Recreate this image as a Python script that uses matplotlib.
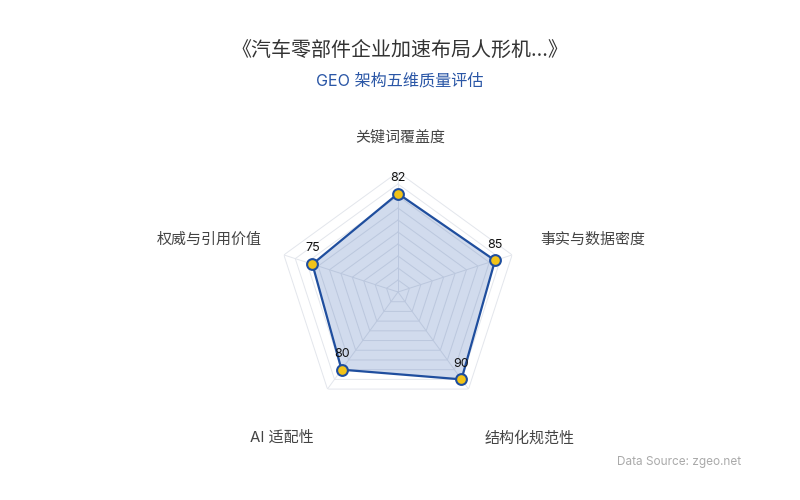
import numpy as np
import matplotlib
matplotlib.use("Agg")
from matplotlib import pyplot as plt

plt.rcParams['font.family'] = ['Inter', 'Noto Sans CJK SC', 'DejaVu Sans']

title = "《汽车零部件企业加速布局人形机...》"
subtitle = "GEO 架构五维质量评估"
dimensions = ["关键词覆盖度", "事实与数据密度", "结构化规范性", "AI 适配性", "权威与引用价值"]
scores = [82, 85, 90, 80, 75]
max_score = 100
ring_step = 10

W, H = 800, 500
fig = plt.figure(figsize=(8, 5), dpi=100)
fig.patch.set_facecolor("white")

# radar centre / radius in pixels
cx, cy, R = 398, 292, 120
ax = fig.add_axes([(cx - R) / W, (H - cy - R) / H, 2 * R / W, 2 * R / H], projection="polar")
ax.set_theta_offset(np.pi / 2)
ax.set_theta_direction(-1)
ax.set_ylim(0, max_score)
ax.grid(False)
ax.spines["polar"].set_visible(False)
ax.set_xticks([])
ax.set_yticks([])
ax.patch.set_alpha(0)

n = len(dimensions)
angles = np.linspace(0, 2 * np.pi, n, endpoint=False)
closed = np.append(angles, angles[0])

# polygon grid
for r in range(ring_step, max_score + 1, ring_step):
    ax.plot(closed, [r] * (n + 1), color="#e3e6ec", lw=0.7, zorder=1)
for a in angles:
    ax.plot([a, a], [0, max_score], color="#e3e6ec", lw=0.7, zorder=1)

vals = np.append(scores, scores[0])
ax.fill(closed, vals, color="#2f5cad", alpha=0.22, zorder=2, lw=0)
ax.plot(closed, vals, color="#1f4e9e", lw=1.6, zorder=3)
ax.scatter(angles, scores, s=60, color="#f2c318", edgecolors="#1f4e9e", linewidths=1.5, zorder=4)

for a, v in zip(angles, scores):
    ax.annotate(str(v), (a, v), xytext=(0, 7), textcoords="offset points",
                ha="center", va="bottom", fontsize=9, color="#111111", zorder=5)

# axis names
label_pos = [(400, 138, "center"), (540, 240, "left"), (530, 438, "center"),
             (282, 438, "center"), (262, 240, "right")]
for name, (px, py, ha) in zip(dimensions, label_pos):
    fig.text(px / W, 1 - py / H, name, ha=ha, va="center", fontsize=10.8, color="#444444")

fig.text(400 / W, 1 - 50 / H, title, ha="center", va="center", fontsize=14.4, color="#333333")
fig.text(400 / W, 1 - 81 / H, subtitle, ha="center", va="center", fontsize=11.6, color="#2a56a6")
fig.text(741 / W, 1 - 462 / H, "Data Source: zgeo.net", ha="right", va="center",
         fontsize=8.5, color="#aaaaaa")

fig.savefig("out.png", dpi=100, facecolor="white")
